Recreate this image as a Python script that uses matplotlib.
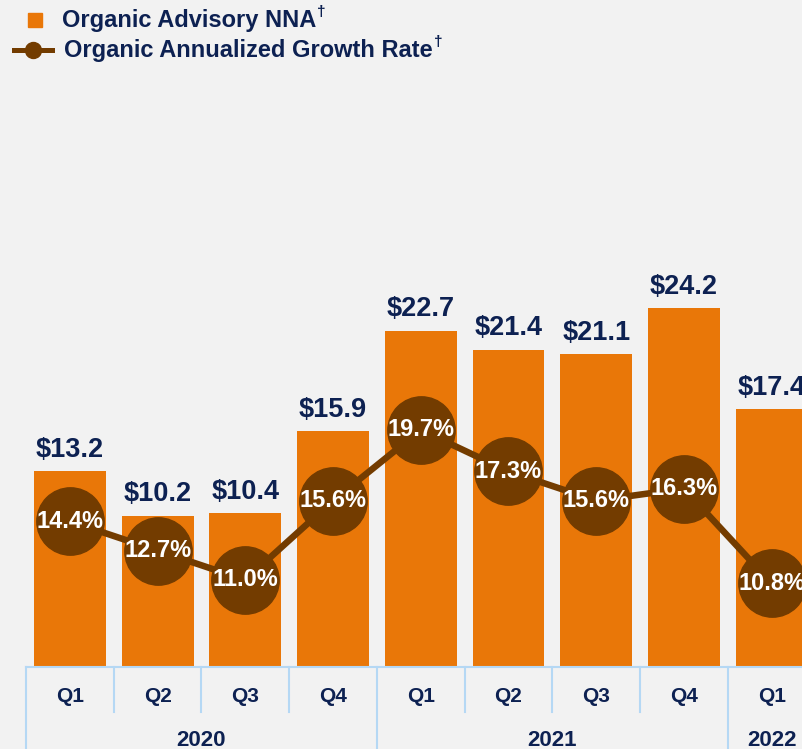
import matplotlib.pyplot as plt
import matplotlib.transforms as mtransforms
from matplotlib.lines import Line2D

# data
quarters = ['Q1', 'Q2', 'Q3', 'Q4', 'Q1', 'Q2', 'Q3', 'Q4', 'Q1']
years = ['2020', '2021', '2022']
year_counts = [4, 4, 1]
nna = [13.2, 10.2, 10.4, 15.9, 22.7, 21.4, 21.1, 24.2, 17.4]
growth = [14.4, 12.7, 11.0, 15.6, 19.7, 17.3, 15.6, 16.3, 10.8]

plt.rcParams['font.family'] = ['Liberation Sans', 'DejaVu Sans']

bg = '#f2f2f2'
orange = '#e97708'
brown = '#733c00'
navy = '#0d2152'
sep_color = '#b5d8f4'

fig = plt.figure(figsize=(8.02, 7.49), dpi=100, facecolor=bg)
W, H = 802, 749
ax_left, ax_bottom, ax_top = 26, 667, 80
ax = fig.add_axes([ax_left / W, (H - ax_bottom) / H, 789.5 / W, (ax_bottom - ax_top) / H])
ax.set_facecolor(bg)

x = list(range(len(nna)))
bars = ax.bar(x, nna, width=0.82, color=orange, zorder=2)
ax.set_xlim(-0.5, 8.5)
ax.set_ylim(0, 39.6)

for xi, v in zip(x, nna):
    ax.annotate(f'${v:.1f}', (xi, v), xytext=(0, 6), textcoords='offset points',
                ha='center', va='bottom', fontsize=19.5, fontweight='bold', color=navy)

# growth line on a second scale
ax2 = ax.twinx()
ax2.set_ylim(5.95, 40.0)
ax2.plot(x, growth, color=brown, lw=4.7, marker='o', markersize=48.5, zorder=3)
for xi, g in zip(x, growth):
    ax2.text(xi, g, f'{g:.1f}%', ha='center', va='center', fontsize=17,
             fontweight='bold', color='white', zorder=4)

for a in (ax, ax2):
    a.set_yticks([])
    a.set_xticks([])
    for s in a.spines.values():
        s.set_visible(False)

# category table under the axis
trans = mtransforms.blended_transform_factory(ax.transData, ax.transAxes)
ah = ax_bottom - ax_top
ax.plot([-0.5, 8.5], [0, 0], transform=trans, color=sep_color, lw=1.5, clip_on=False, zorder=5)
for xi, q in zip(x, quarters):
    ax.text(xi, -30 / ah, q, transform=trans, ha='center', va='center',
            fontsize=15, fontweight='bold', color=navy)

start = 0
for yr, n in zip(years, year_counts):
    ax.plot([start - 0.5] * 2, [0, -85 / ah], transform=trans, color=sep_color,
            lw=1.5, clip_on=False)
    for k in range(1, n):
        ax.plot([start + k - 0.5] * 2, [0, -45 / ah], transform=trans,
                color=sep_color, lw=1.5, clip_on=False)
    ax.text(start + (n - 1) / 2, -73 / ah, yr, transform=trans, ha='center',
            va='center', fontsize=16, fontweight='bold', color=navy)
    start += n

# legend drawn by hand
fig.add_artist(Line2D([35 / W], [1 - 20 / H], marker='s', markersize=10,
                      color=orange, linestyle='none'))
fig.add_artist(Line2D([14 / W, 52 / W], [1 - 50 / H] * 2, color=brown, lw=3.6))
fig.add_artist(Line2D([33 / W], [1 - 50 / H], marker='o', markersize=11.5,
                      color=brown, linestyle='none'))

renderer = fig.canvas.get_renderer()
for lbl, lx, ly in [('Organic Advisory NNA', 62, 20),
                    ('Organic Annualized Growth Rate', 64, 50)]:
    t = fig.text(lx / W, 1 - ly / H, lbl, ha='left', va='center', fontsize=17,
                 fontweight='bold', color=navy)
    bb = t.get_window_extent(renderer)
    fig.text((bb.x1 + 1) / W, 1 - (ly - 8) / H, '\u2020', ha='left', va='center',
             fontsize=11, fontweight='bold', color=navy)

fig.savefig('out.png', dpi=100, facecolor=bg)
